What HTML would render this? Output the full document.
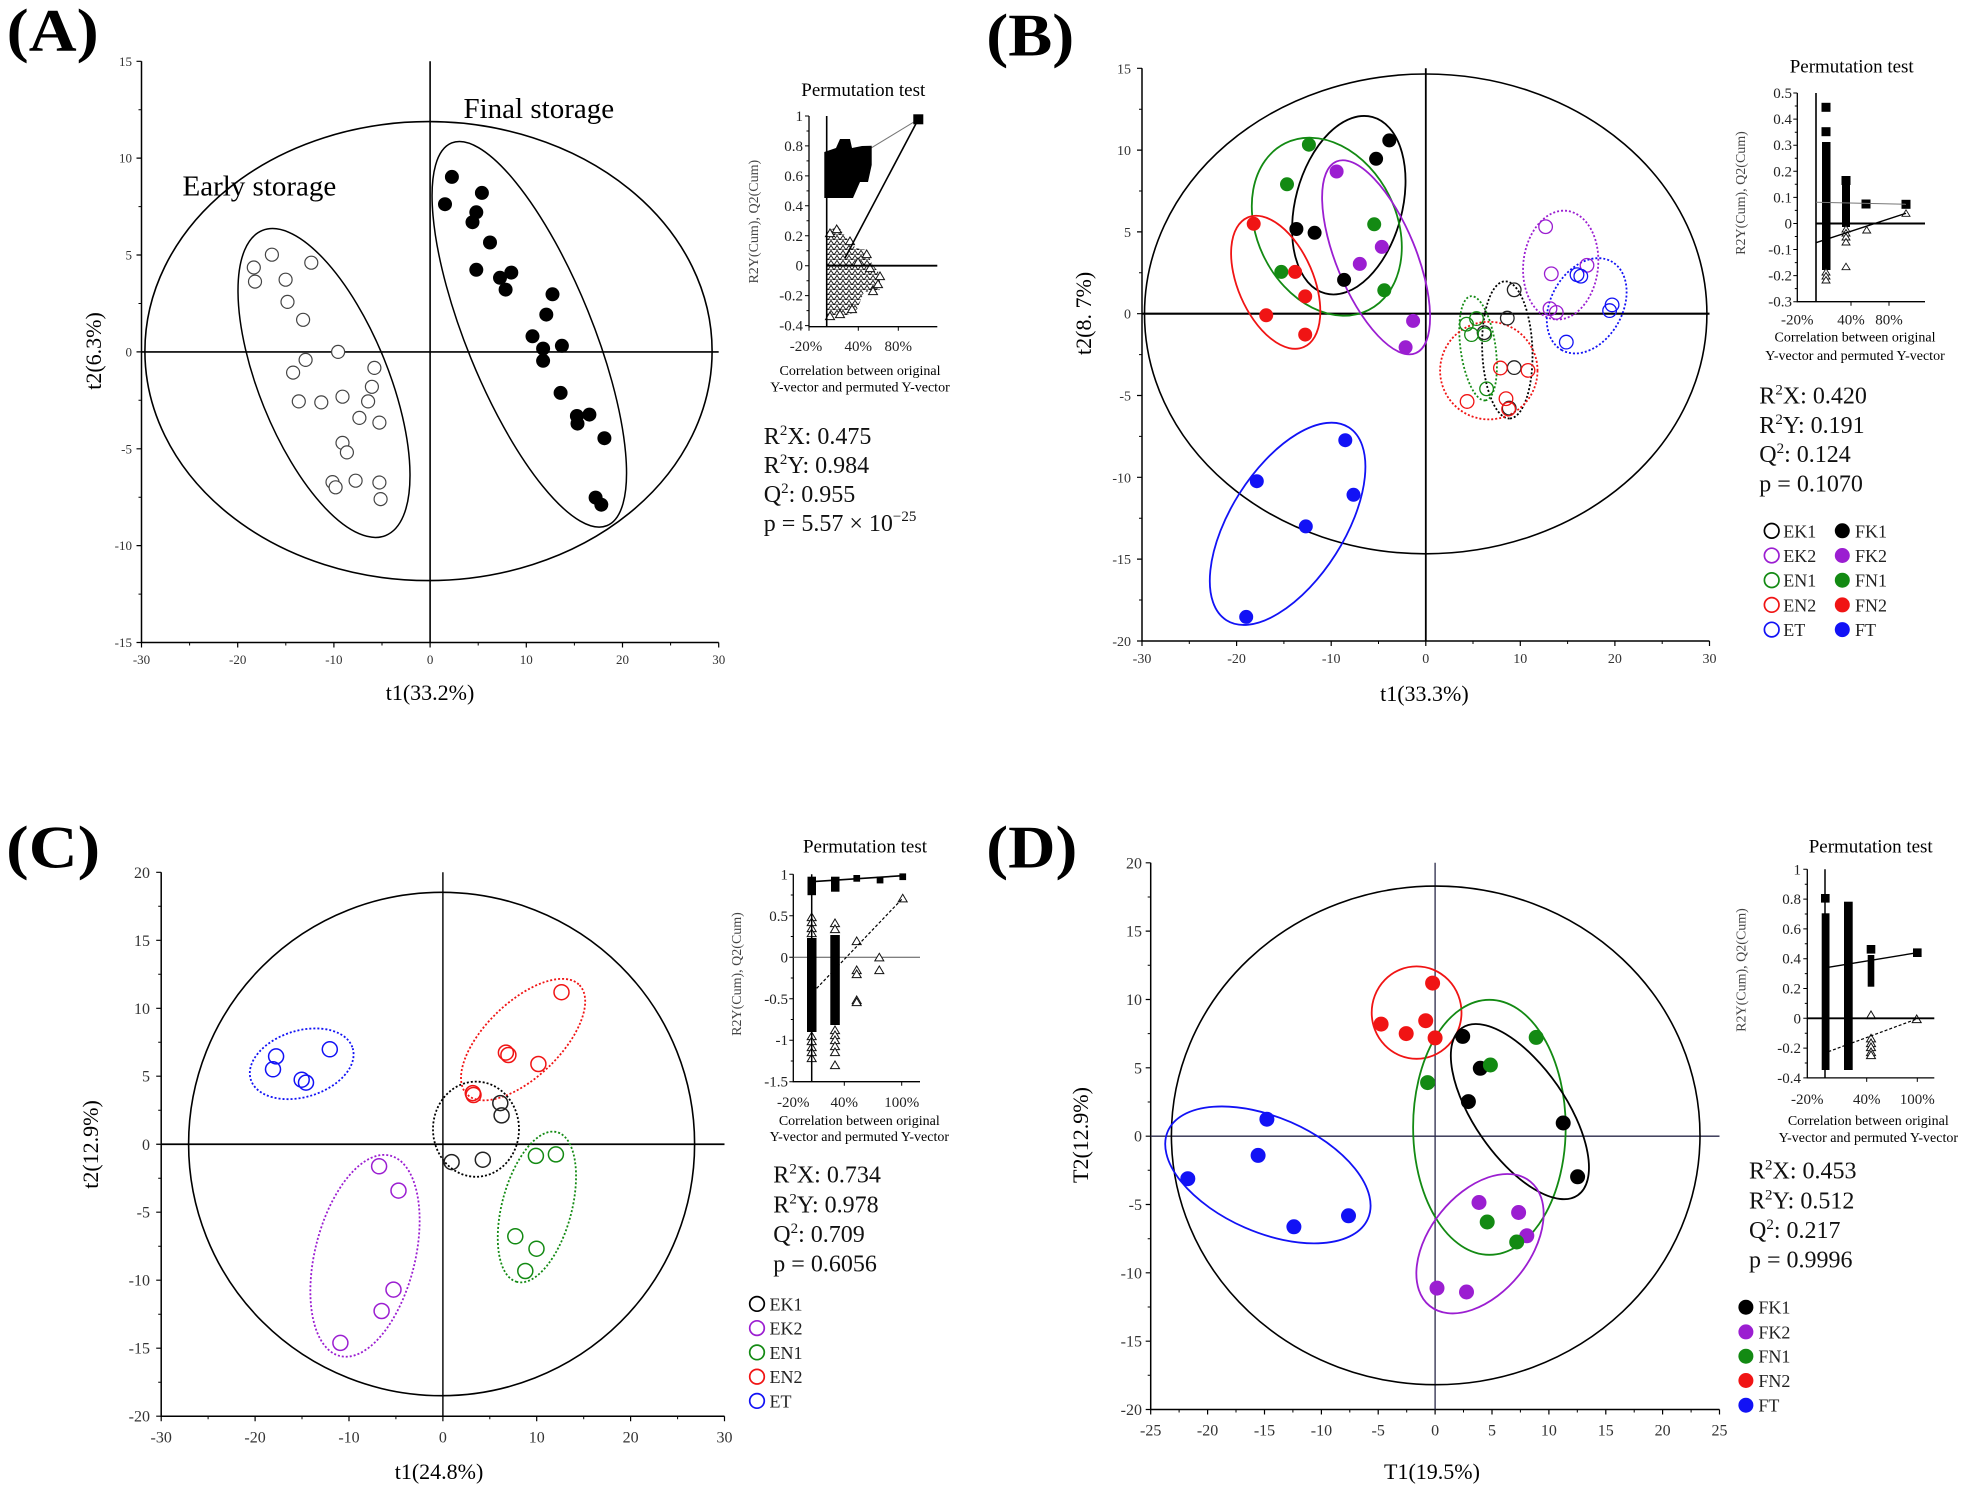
<!DOCTYPE html>
<html><head><meta charset="utf-8"><style>
html,body{margin:0;padding:0;background:#fff;}
svg{display:block;font-family:"Liberation Serif",serif;}
svg text{font-family:"Liberation Serif",serif;}
</style></head><body>
<svg width="1965" height="1488" viewBox="0 0 1965 1488" xmlns="http://www.w3.org/2000/svg" font-family="'Liberation Serif', serif">
<defs>
<path id="tr" d="M0,-4 L4.5,3.6 L-4.5,3.6 Z" fill="#fff" stroke="#111" stroke-width="1"/>
<path id="trs" d="M0,-3.5 L4,3 L-4,3 Z" fill="#fff" stroke="#111" stroke-width="0.9"/>
<pattern id="tp" width="6" height="5" patternUnits="userSpaceOnUse"><rect width="6" height="5" fill="#fff"/><path d="M3,0.4 L6,5 L0,5 Z" fill="none" stroke="#111" stroke-width="0.9"/></pattern>
</defs>
<rect width="1965" height="1488" fill="#fff"/>

<!-- ================= PANEL A ================= -->
<text x="6.7" y="50.5" font-size="60" font-weight="bold" textLength="92" lengthAdjust="spacingAndGlyphs">(A)</text>
<g stroke="#000" fill="none">
<path d="M141.5,61.3 V642.5 H718.7" stroke-width="1.5"/>
<path d="M141.5,642.5v5M237.7,642.5v5M333.9,642.5v5M430.1,642.5v5M526.3,642.5v5M622.5,642.5v5M718.7,642.5v5M141.5,61.3h-5M141.5,158.1h-5M141.5,255h-5M141.5,351.9h-5M141.5,448.8h-5M141.5,545.6h-5M141.5,642.5h-5" stroke-width="1.2"/>
<path d="M189.6,642.5v3M285.8,642.5v3M382,642.5v3M478.2,642.5v3M574.4,642.5v3M670.6,642.5v3M141.5,109.7h-3M141.5,206.6h-3M141.5,303.5h-3M141.5,400.3h-3M141.5,497.2h-3M141.5,594.1h-3" stroke-width="1"/>
<path d="M141.5,351.9 H718.7 M430.1,61.3 V642.5" stroke-width="1.6"/>
<ellipse cx="428.5" cy="351.1" rx="283.6" ry="229.5" stroke-width="1.6"/>
<ellipse cx="324" cy="383" rx="164.5" ry="64.7" transform="rotate(68 324 383)" stroke-width="1.5"/>
<ellipse cx="529.3" cy="334.3" rx="206.5" ry="63.1" transform="rotate(67.9 529.3 334.3)" stroke-width="1.5"/>
</g>
<g font-size="13" fill="#333" text-anchor="end">
<text x="132" y="65.8">15</text><text x="132" y="162.6">10</text><text x="132" y="259.5">5</text><text x="132" y="356.4">0</text><text x="132" y="453.3">-5</text><text x="132" y="550.1">-10</text><text x="132" y="647">-15</text>
</g>
<g font-size="13" fill="#333" text-anchor="middle">
<text x="141.5" y="664">-30</text><text x="237.7" y="664">-20</text><text x="333.9" y="664">-10</text><text x="430.1" y="664">0</text><text x="526.3" y="664">10</text><text x="622.5" y="664">20</text><text x="718.7" y="664">30</text>
</g>
<text x="430" y="700" font-size="22" text-anchor="middle">t1(33.2%)</text>
<text transform="translate(101,351) rotate(-90)" font-size="22" text-anchor="middle">t2(6.3%)</text>
<text x="182.5" y="195.6" font-size="29">Early storage</text>
<text x="463.5" y="117.8" font-size="29">Final storage</text>
<g fill="#fff" stroke="#444" stroke-width="1.2">
<circle cx="271.9" cy="254.7" r="6.5"/><circle cx="253.8" cy="267.5" r="6.5"/><circle cx="255" cy="281.6" r="6.5"/><circle cx="311.3" cy="262.7" r="6.5"/><circle cx="285.6" cy="279.7" r="6.5"/><circle cx="287.5" cy="301.9" r="6.5"/><circle cx="303.1" cy="319.8" r="6.5"/><circle cx="338.1" cy="351.9" r="6.5"/><circle cx="305.6" cy="359.9" r="6.5"/><circle cx="293.1" cy="372.6" r="6.5"/><circle cx="374.4" cy="367.9" r="6.5"/><circle cx="371.9" cy="386.8" r="6.5"/><circle cx="298.8" cy="401.4" r="6.5"/><circle cx="321.3" cy="402.4" r="6.5"/><circle cx="342.5" cy="396.7" r="6.5"/><circle cx="368.1" cy="401.4" r="6.5"/><circle cx="359.4" cy="417.9" r="6.5"/><circle cx="379.4" cy="422.6" r="6.5"/><circle cx="342.5" cy="442.9" r="6.5"/><circle cx="346.9" cy="452.4" r="6.5"/><circle cx="355.6" cy="480.7" r="6.5"/><circle cx="332.5" cy="482.1" r="6.5"/><circle cx="335.6" cy="487.3" r="6.5"/><circle cx="379.4" cy="482.5" r="6.5"/><circle cx="380.6" cy="499.1" r="6.5"/>
</g>
<g fill="#000">
<circle cx="451.9" cy="176.9" r="7"/><circle cx="445" cy="204.2" r="7"/><circle cx="481.9" cy="192.9" r="7"/><circle cx="476.3" cy="212.3" r="7"/><circle cx="472.5" cy="222.2" r="7"/><circle cx="490" cy="242.5" r="7"/><circle cx="476.3" cy="269.8" r="7"/><circle cx="500" cy="277.8" r="7"/><circle cx="511.3" cy="272.6" r="7"/><circle cx="505.6" cy="289.6" r="7"/><circle cx="552.5" cy="294.3" r="7"/><circle cx="546.3" cy="314.6" r="7"/><circle cx="532.5" cy="336.3" r="7"/><circle cx="543.1" cy="348.6" r="7"/><circle cx="561.9" cy="345.8" r="7"/><circle cx="543.1" cy="360.8" r="7"/><circle cx="560.6" cy="392.9" r="7"/><circle cx="589.4" cy="414.6" r="7"/><circle cx="576.9" cy="416" r="7"/><circle cx="577.5" cy="423.6" r="7"/><circle cx="604.4" cy="438.2" r="7"/><circle cx="595.6" cy="497.6" r="7"/><circle cx="601.3" cy="504.7" r="7"/>
</g>

<!-- Inset A -->
<text x="863.3" y="96" font-size="19" text-anchor="middle">Permutation test</text>
<g stroke="#000" fill="none">
<path d="M809,116 V326.7 H937.3" stroke-width="1.3"/>
<path d="M809,116h-4M809,145.9h-4M809,175.9h-4M809,205.8h-4M809,235.8h-4M809,265.7h-4M809,295.6h-4M809,325.6h-4M809,131h-2.5M809,160.9h-2.5M809,190.9h-2.5M809,220.8h-2.5M809,250.8h-2.5M809,280.7h-2.5M809,310.6h-2.5M809,326.7v4M858.3,326.7v4M898.3,326.7v4" stroke-width="1"/>
</g>
<polygon points="826,232 838,226 848,240 856,248 866,250 872,264 880,274 880,290 864,292 856,312 845,316 826,319" fill="url(#tp)"/>
<use href="#tr" x="866.7" y="254"/><use href="#tr" x="880" y="276"/><use href="#tr" x="878" y="284"/><use href="#tr" x="873" y="291"/><use href="#tr" x="836.7" y="229"/><use href="#tr" x="830" y="233"/><use href="#tr" x="850" y="241"/><use href="#tr" x="830" y="316"/><use href="#tr" x="840" y="314"/><use href="#tr" x="852" y="309"/><use href="#tr" x="858" y="262"/><use href="#tr" x="870" y="268"/>
<g stroke="#000" fill="none">
<path d="M826.7,116 V326.7" stroke-width="1.6"/>
<path d="M826.7,265.7 H937.3" stroke-width="1.8"/>
<path d="M866.7,150.7 L918.3,119.3" stroke="#777" stroke-width="1"/>
<path d="M918.3,119.3 L845,258" stroke-width="1.6"/>
</g>
<g fill="#000">
<polygon points="824.3,152 836,148 840,139 850,139 852,148 862,146 871.7,145.7 871.7,165 868,182 860,182 853,198 838,198 824.3,198"/>
<rect x="913.3" y="114.3" width="10" height="10"/>
</g>
<g font-size="15" fill="#222" text-anchor="end">
<text x="803" y="121">1</text><text x="803" y="150.9">0.8</text><text x="803" y="180.9">0.6</text><text x="803" y="210.8">0.4</text><text x="803" y="240.8">0.2</text><text x="803" y="270.7">0</text><text x="803" y="300.6">-0.2</text><text x="803" y="330.6">-0.4</text>
</g>
<g font-size="15" fill="#222" text-anchor="middle">
<text x="806" y="351">-20%</text><text x="858.3" y="351">40%</text><text x="898.3" y="351">80%</text>
</g>
<text transform="translate(758,221.7) rotate(-90)" font-size="14" fill="#444" text-anchor="middle">R2Y(Cum), Q2(Cum)</text>
<text x="860" y="375" font-size="14" text-anchor="middle">Correlation between original</text>
<text x="860" y="391.7" font-size="14" text-anchor="middle">Y-vector and permuted Y-vector</text>
<g font-size="24" fill="#111">
<text x="763.8" y="444">R<tspan font-size="15" dy="-9">2</tspan><tspan dy="9">X: 0.475</tspan></text>
<text x="763.8" y="473">R<tspan font-size="15" dy="-9">2</tspan><tspan dy="9">Y: 0.984</tspan></text>
<text x="763.8" y="502">Q<tspan font-size="15" dy="-9">2</tspan><tspan dy="9">: 0.955</tspan></text>
<text x="763.8" y="531">p = 5.57 × 10<tspan font-size="15" dy="-10">−25</tspan></text>
</g>

<!-- ================= PANEL B ================= -->
<text x="986.3" y="55.6" font-size="60" font-weight="bold" textLength="88" lengthAdjust="spacingAndGlyphs">(B)</text>
<g stroke="#000" fill="none">
<path d="M1142,68.3 V641 H1709.5" stroke-width="1.5"/>
<path d="M1142,641v5M1236.6,641v5M1331.2,641v5M1425.8,641v5M1520.3,641v5M1614.9,641v5M1709.5,641v5M1142,68.3h-5M1142,150.1h-5M1142,231.9h-5M1142,313.7h-5M1142,395.5h-5M1142,477.3h-5M1142,559.1h-5M1142,641h-5" stroke-width="1.2"/>
<path d="M1189.3,641v3M1283.9,641v3M1378.5,641v3M1473,641v3M1567.6,641v3M1662.2,641v3M1142,109.2h-3M1142,191h-3M1142,272.8h-3M1142,354.6h-3M1142,436.4h-3M1142,518.2h-3M1142,600h-3" stroke-width="1"/>
<path d="M1142,313.7 H1709.5" stroke-width="2.2"/>
<path d="M1425.8,68.3 V641" stroke-width="1.8"/>
<ellipse cx="1425.7" cy="313.9" rx="281.2" ry="239.9" stroke-width="1.6"/>
</g>
<g fill="none" stroke-width="1.8">
<ellipse cx="1348.8" cy="205.2" rx="91.3" ry="53.4" transform="rotate(105 1348.8 205.2)" stroke="#000"/>
<ellipse cx="1326.8" cy="226.7" rx="93.2" ry="69.7" transform="rotate(63.4 1326.8 226.7)" stroke="#138a13"/>
<ellipse cx="1376.1" cy="257.3" rx="103.7" ry="39.8" transform="rotate(67.6 1376.1 257.3)" stroke="#9b1ed1"/>
<ellipse cx="1275.7" cy="282.3" rx="70.6" ry="37.8" transform="rotate(66.6 1275.7 282.3)" stroke="#f01414"/>
<ellipse cx="1287.6" cy="523.8" rx="114.2" ry="56.9" transform="rotate(122.4 1287.6 523.8)" stroke="#1212f5"/>
</g>
<g fill="none" stroke-width="1.8" stroke-dasharray="2 2">
<ellipse cx="1560.7" cy="265.1" rx="54.6" ry="37.4" transform="rotate(96.2 1560.7 265.1)" stroke="#9b1ed1"/>
<ellipse cx="1586.7" cy="305.8" rx="50.8" ry="35.8" transform="rotate(119.3 1586.7 305.8)" stroke="#1212f5"/>
<ellipse cx="1507.3" cy="349.9" rx="68.6" ry="25.1" transform="rotate(88 1507.3 349.9)" stroke="#000"/>
<ellipse cx="1478.1" cy="348.3" rx="52.6" ry="17.5" transform="rotate(82 1478.1 348.3)" stroke="#138a13"/>
<ellipse cx="1488.8" cy="370.6" rx="48.7" ry="48.8" stroke="#f01414"/>
</g>
<g font-size="14" fill="#333" text-anchor="end">
<text x="1131" y="73.3">15</text><text x="1131" y="155.1">10</text><text x="1131" y="236.9">5</text><text x="1131" y="318.7">0</text><text x="1131" y="400.5">-5</text><text x="1131" y="482.3">-10</text><text x="1131" y="564.1">-15</text><text x="1131" y="646">-20</text>
</g>
<g font-size="14" fill="#333" text-anchor="middle">
<text x="1142" y="663">-30</text><text x="1236.6" y="663">-20</text><text x="1331.2" y="663">-10</text><text x="1425.8" y="663">0</text><text x="1520.3" y="663">10</text><text x="1614.9" y="663">20</text><text x="1709.5" y="663">30</text>
</g>
<text x="1424.4" y="701" font-size="22" text-anchor="middle">t1(33.3%)</text>
<text transform="translate(1091,313.4) rotate(-90)" font-size="22" text-anchor="middle">t2(8. 7%)</text>
<g fill="#000"><circle cx="1389.3" cy="140.4" r="7"/><circle cx="1376.1" cy="158.8" r="7"/><circle cx="1296.4" cy="229" r="7"/><circle cx="1314.6" cy="232.8" r="7"/><circle cx="1344.1" cy="279.9" r="7"/></g>
<g fill="#138a13"><circle cx="1308.9" cy="144.7" r="7"/><circle cx="1287" cy="184.3" r="7"/><circle cx="1374.2" cy="224.3" r="7"/><circle cx="1281.3" cy="271.9" r="7"/><circle cx="1384.3" cy="290.3" r="7"/></g>
<g fill="#9b1ed1"><circle cx="1336.6" cy="171.5" r="7"/><circle cx="1381.8" cy="246.9" r="7"/><circle cx="1359.8" cy="263.9" r="7"/><circle cx="1413.1" cy="320.9" r="7"/><circle cx="1405.6" cy="347.3" r="7"/></g>
<g fill="#f01414"><circle cx="1253.7" cy="223.8" r="7"/><circle cx="1295.1" cy="271.9" r="7"/><circle cx="1305.2" cy="296.4" r="7"/><circle cx="1266.2" cy="315.3" r="7"/><circle cx="1305.2" cy="334.6" r="7"/></g>
<g fill="#1212f5"><circle cx="1345.3" cy="440.2" r="7"/><circle cx="1256.8" cy="481.2" r="7"/><circle cx="1353.5" cy="494.8" r="7"/><circle cx="1305.8" cy="526.4" r="7"/><circle cx="1246.2" cy="616.9" r="7"/></g>
<g fill="none" stroke-width="1.3">
<g stroke="#9b1ed1"><circle cx="1545.6" cy="226.7" r="6.8"/><circle cx="1551.3" cy="273.8" r="6.8"/><circle cx="1550" cy="308.7" r="6.8"/><circle cx="1556.3" cy="312.4" r="6.8"/><circle cx="1587" cy="265.3" r="6.8"/></g>
<g stroke="#1212f5"><circle cx="1577" cy="274.7" r="6.8"/><circle cx="1580.8" cy="276.2" r="6.8"/><circle cx="1612.1" cy="304.9" r="6.8"/><circle cx="1609.6" cy="310.6" r="6.8"/><circle cx="1566.3" cy="342.1" r="6.8"/></g>
<g stroke="#222"><circle cx="1514.2" cy="289.8" r="6.8"/><circle cx="1507.3" cy="318.1" r="6.8"/><circle cx="1484.1" cy="332.7" r="6.8"/><circle cx="1514.2" cy="367.6" r="6.8"/><circle cx="1509.2" cy="408.1" r="6.8"/></g>
<g stroke="#138a13"><circle cx="1476.5" cy="318.6" r="6.8"/><circle cx="1466.5" cy="324.2" r="6.8"/><circle cx="1471.5" cy="334.6" r="6.8"/><circle cx="1484.7" cy="334.6" r="6.8"/><circle cx="1486.6" cy="388.8" r="6.8"/></g>
<g stroke="#f01414"><circle cx="1500.4" cy="368" r="6.8"/><circle cx="1528" cy="370.4" r="6.8"/><circle cx="1467.1" cy="401.5" r="6.8"/><circle cx="1506" cy="398.7" r="6.8"/><circle cx="1508.6" cy="409" r="6.8"/></g>
</g>

<!-- Inset B -->
<text x="1851.7" y="72.5" font-size="19" text-anchor="middle">Permutation test</text>
<g stroke="#000" fill="none">
<path d="M1797.3,93 V301.7 H1925" stroke-width="1.3"/>
<path d="M1797.3,93h-4M1797.3,119.1h-4M1797.3,145.2h-4M1797.3,171.3h-4M1797.3,197.4h-4M1797.3,223.5h-4M1797.3,249.5h-4M1797.3,275.6h-4M1797.3,301.7h-4M1797.3,106h-2.5M1797.3,132.2h-2.5M1797.3,158.2h-2.5M1797.3,184.3h-2.5M1797.3,210.4h-2.5M1797.3,236.5h-2.5M1797.3,262.6h-2.5M1797.3,288.6h-2.5M1851,301.7v4M1889,301.7v4" stroke-width="1"/>
</g>
<g fill="#000">
<rect x="1821.5" y="102.8" width="9" height="9"/><rect x="1821.5" y="127.2" width="9" height="9"/><rect x="1822" y="142" width="8.5" height="128"/>
<rect x="1841.5" y="176" width="9" height="9"/><rect x="1842" y="185" width="8" height="42"/>
<rect x="1861.5" y="199.5" width="9" height="9"/><rect x="1901.5" y="199.8" width="9" height="9"/>
</g>
<use href="#trs" x="1826" y="272"/><use href="#trs" x="1826" y="276"/><use href="#trs" x="1826" y="280"/>
<use href="#trs" x="1846" y="229"/><use href="#trs" x="1846" y="233"/><use href="#trs" x="1846" y="237"/><use href="#trs" x="1846" y="242"/>
<use href="#trs" x="1866.7" y="230"/><use href="#trs" x="1846" y="266.7"/><use href="#trs" x="1906" y="213.3"/>
<g stroke="#000" fill="none">
<path d="M1816,93 V301.7" stroke-width="1.6"/>
<path d="M1816,223.5 H1925" stroke-width="2"/>
<path d="M1816,202.3 L1906,204.3" stroke="#777" stroke-width="1"/>
<path d="M1816,242.7 L1906,213.3" stroke-width="1.4"/>
</g>
<g font-size="15" fill="#222" text-anchor="end">
<text x="1792" y="98">0.5</text><text x="1792" y="124.1">0.4</text><text x="1792" y="150.2">0.3</text><text x="1792" y="176.3">0.2</text><text x="1792" y="202.4">0.1</text><text x="1792" y="228.5">0</text><text x="1792" y="254.5">-0.1</text><text x="1792" y="280.6">-0.2</text><text x="1792" y="306.7">-0.3</text>
</g>
<g font-size="15" fill="#222" text-anchor="middle">
<text x="1797.3" y="324.5">-20%</text><text x="1851" y="324.5">40%</text><text x="1889" y="324.5">80%</text>
</g>
<text transform="translate(1745,193) rotate(-90)" font-size="14" fill="#444" text-anchor="middle">R2Y(Cum), Q2(Cum)</text>
<text x="1855" y="341.5" font-size="14" text-anchor="middle">Correlation between original</text>
<text x="1855" y="360" font-size="14" text-anchor="middle">Y-vector and permuted Y-vector</text>
<g font-size="24" fill="#111">
<text x="1759.3" y="403.3">R<tspan font-size="15" dy="-9">2</tspan><tspan dy="9">X: 0.420</tspan></text>
<text x="1759.3" y="433">R<tspan font-size="15" dy="-9">2</tspan><tspan dy="9">Y: 0.191</tspan></text>
<text x="1759.3" y="462">Q<tspan font-size="15" dy="-9">2</tspan><tspan dy="9">: 0.124</tspan></text>
<text x="1759.3" y="491.7">p = 0.1070</text>
</g>
<g stroke-width="1.7" fill="none">
<circle cx="1771.7" cy="530.8" r="7.3" stroke="#000"/><circle cx="1771.7" cy="555.5" r="7.3" stroke="#9b1ed1"/><circle cx="1771.7" cy="580.2" r="7.3" stroke="#138a13"/><circle cx="1771.7" cy="604.9" r="7.3" stroke="#f01414"/><circle cx="1771.7" cy="629.6" r="7.3" stroke="#1212f5"/>
</g>
<circle cx="1842.3" cy="530.8" r="7.5" fill="#000"/><circle cx="1842.3" cy="555.5" r="7.5" fill="#9b1ed1"/><circle cx="1842.3" cy="580.2" r="7.5" fill="#138a13"/><circle cx="1842.3" cy="604.9" r="7.5" fill="#f01414"/><circle cx="1842.3" cy="629.6" r="7.5" fill="#1212f5"/>
<g font-size="18" fill="#222">
<text x="1783.3" y="537.3">EK1</text><text x="1783.3" y="562">EK2</text><text x="1783.3" y="586.7">EN1</text><text x="1783.3" y="611.4">EN2</text><text x="1783.3" y="636.1">ET</text>
<text x="1855" y="537.3">FK1</text><text x="1855" y="562">FK2</text><text x="1855" y="586.7">FN1</text><text x="1855" y="611.4">FN2</text><text x="1855" y="636.1">FT</text>
</g>

<!-- ================= PANEL C ================= -->
<text x="6.2" y="867.5" font-size="60" font-weight="bold" textLength="94" lengthAdjust="spacingAndGlyphs">(C)</text>
<g stroke="#000" fill="none">
<path d="M161.2,872.3 V1416.2 H724.5" stroke-width="1.5"/>
<path d="M161.2,1416.2v5M255.1,1416.2v5M349,1416.2v5M442.9,1416.2v5M536.7,1416.2v5M630.6,1416.2v5M724.5,1416.2v5M161.2,872.3h-5M161.2,940.3h-5M161.2,1008.3h-5M161.2,1076.2h-5M161.2,1144.25h-5M161.2,1212.2h-5M161.2,1280.2h-5M161.2,1348.2h-5M161.2,1416.2h-5" stroke-width="1.2"/>
<path d="M208.1,1416.2v3M302,1416.2v3M395.9,1416.2v3M489.8,1416.2v3M583.7,1416.2v3M677.6,1416.2v3M161.2,906.3h-3M161.2,974.3h-3M161.2,1042.2h-3M161.2,1110.2h-3M161.2,1178.2h-3M161.2,1246.2h-3M161.2,1314.2h-3M161.2,1382.2h-3" stroke-width="1"/>
<path d="M161.2,1144.25 H724.5" stroke-width="1.8"/>
<path d="M442.9,872.3 V1416.2" stroke-width="1.4"/>
<ellipse cx="441.6" cy="1144" rx="253" ry="251.7" stroke-width="1.6"/>
</g>
<g fill="none" stroke-width="1.8" stroke-dasharray="2 2">
<ellipse cx="301.7" cy="1063.8" rx="53.3" ry="33.2" transform="rotate(-17 301.7 1063.8)" stroke="#1212f5"/>
<ellipse cx="523.1" cy="1039.6" rx="78.4" ry="37.4" transform="rotate(-44 523.1 1039.6)" stroke="#f01414"/>
<ellipse cx="476" cy="1129.2" rx="43" ry="47.6" stroke="#000"/>
<ellipse cx="536.9" cy="1207" rx="77.5" ry="34.8" transform="rotate(105 536.9 1207)" stroke="#138a13"/>
<ellipse cx="365" cy="1255.8" rx="103.3" ry="50" transform="rotate(104.1 365 1255.8)" stroke="#9b1ed1"/>
</g>
<g font-size="16" fill="#333" text-anchor="end">
<text x="150" y="877.8">20</text><text x="150" y="945.8">15</text><text x="150" y="1013.8">10</text><text x="150" y="1081.7">5</text><text x="150" y="1149.75">0</text><text x="150" y="1217.7">-5</text><text x="150" y="1285.7">-10</text><text x="150" y="1353.7">-15</text><text x="150" y="1421.7">-20</text>
</g>
<g font-size="16" fill="#333" text-anchor="middle">
<text x="161.2" y="1442.5">-30</text><text x="255.1" y="1442.5">-20</text><text x="349" y="1442.5">-10</text><text x="442.9" y="1442.5">0</text><text x="536.7" y="1442.5">10</text><text x="630.6" y="1442.5">20</text><text x="724.5" y="1442.5">30</text>
</g>
<text x="439" y="1479" font-size="22" text-anchor="middle">t1(24.8%)</text>
<text transform="translate(98,1144.5) rotate(-90)" font-size="22" text-anchor="middle">t2(12.9%)</text>
<g fill="none" stroke-width="1.5">
<g stroke="#1212f5"><circle cx="276.1" cy="1056.4" r="7.5"/><circle cx="273" cy="1069.3" r="7.5"/><circle cx="301.7" cy="1079.7" r="7.5"/><circle cx="306" cy="1082.6" r="7.5"/><circle cx="329.8" cy="1049.3" r="7.5"/></g>
<g stroke="#f01414"><circle cx="561.5" cy="992.2" r="7.5"/><circle cx="505.9" cy="1052.6" r="7.5"/><circle cx="508.4" cy="1055" r="7.5"/><circle cx="538.4" cy="1064" r="7.5"/><circle cx="472.8" cy="1093.1" r="7.5"/><circle cx="473.5" cy="1095" r="7.5"/></g>
<g stroke="#222"><circle cx="500.3" cy="1103.1" r="7.5"/><circle cx="501.6" cy="1115.4" r="7.5"/><circle cx="451.6" cy="1162.1" r="7.5"/><circle cx="482.8" cy="1159.7" r="7.5"/></g>
<g stroke="#138a13"><circle cx="535.9" cy="1155.9" r="7.5"/><circle cx="555.9" cy="1154.4" r="7.5"/><circle cx="515.3" cy="1236.3" r="7.5"/><circle cx="536.5" cy="1248.7" r="7.5"/><circle cx="525.3" cy="1271" r="7.5"/></g>
<g stroke="#9b1ed1"><circle cx="379.1" cy="1166.3" r="7.5"/><circle cx="398.5" cy="1190.6" r="7.5"/><circle cx="393.5" cy="1289.6" r="7.5"/><circle cx="381.6" cy="1311" r="7.5"/><circle cx="340.4" cy="1342.9" r="7.5"/></g>
</g>

<!-- Inset C -->
<text x="865" y="852.7" font-size="19" text-anchor="middle">Permutation test</text>
<g stroke="#000" fill="none">
<path d="M793.3,874.3 V1081.7 H920" stroke-width="1.3"/>
<path d="M793.3,874.3h-4M793.3,915.8h-4M793.3,957.3h-4M793.3,998.8h-4M793.3,1040.2h-4M793.3,1081.7h-4M793.3,895h-2.5M793.3,936.5h-2.5M793.3,978h-2.5M793.3,1019.5h-2.5M793.3,1061h-2.5M844.3,1081.7v4M901.7,1081.7v4" stroke-width="1"/>
<path d="M793.3,957.3 H920" stroke="#555" stroke-width="1"/>
</g>
<g fill="#000">
<rect x="807.5" y="876.7" width="8.5" height="18.5"/><rect x="831" y="876.7" width="8.5" height="15"/>
<rect x="853.4" y="875" width="6.7" height="6.7"/><rect x="876.7" y="876.7" width="6.7" height="6.7"/><rect x="899.4" y="873.4" width="6.7" height="6.7"/>
<rect x="807" y="938" width="9.5" height="94"/><rect x="830.3" y="935" width="9.5" height="90"/>
</g>
<use href="#tr" x="811.7" y="917"/><use href="#tr" x="811.7" y="922"/><use href="#tr" x="811.7" y="928"/><use href="#tr" x="811.7" y="933"/><use href="#tr" x="811.7" y="1036"/><use href="#tr" x="811.7" y="1041"/><use href="#tr" x="811.7" y="1047"/><use href="#tr" x="811.7" y="1052"/><use href="#tr" x="811.7" y="1058"/>
<use href="#tr" x="835" y="923"/><use href="#tr" x="835" y="929"/><use href="#tr" x="835" y="1030"/><use href="#tr" x="835" y="1035"/><use href="#tr" x="835" y="1040"/><use href="#tr" x="835" y="1046"/><use href="#tr" x="835" y="1052"/><use href="#tr" x="835" y="1065"/>
<use href="#tr" x="856.7" y="941"/><use href="#tr" x="856.7" y="970"/><use href="#tr" x="856.7" y="974"/><use href="#tr" x="856.7" y="1000"/><use href="#tr" x="856.7" y="1002"/><use href="#tr" x="879.3" y="957.3"/><use href="#tr" x="879.3" y="970"/><use href="#tr" x="902.7" y="898.3"/>
<g stroke="#000" fill="none">
<path d="M811.7,874.3 V1081.7" stroke-width="1.5"/>
<path d="M811.7,881.7 L902.7,875.7" stroke-width="1.6"/>
<path d="M816.7,988.3 L902.7,898.3" stroke-width="1.2" stroke-dasharray="3 2"/>
</g>
<g font-size="15" fill="#222" text-anchor="end">
<text x="788" y="879.3">1</text><text x="788" y="920.8">0.5</text><text x="788" y="962.3">0</text><text x="788" y="1003.8">-0.5</text><text x="788" y="1045.2">-1</text><text x="788" y="1086.7">-1.5</text>
</g>
<g font-size="15" fill="#222" text-anchor="middle">
<text x="793.3" y="1107">-20%</text><text x="844.3" y="1107">40%</text><text x="901.7" y="1107">100%</text>
</g>
<text transform="translate(741,974) rotate(-90)" font-size="14" fill="#444" text-anchor="middle">R2Y(Cum), Q2(Cum)</text>
<text x="859.3" y="1125" font-size="14" text-anchor="middle">Correlation between original</text>
<text x="859.3" y="1141" font-size="14" text-anchor="middle">Y-vector and permuted Y-vector</text>
<g font-size="24" fill="#111">
<text x="773.3" y="1182.5">R<tspan font-size="15" dy="-9">2</tspan><tspan dy="9">X: 0.734</tspan></text>
<text x="773.3" y="1212.5">R<tspan font-size="15" dy="-9">2</tspan><tspan dy="9">Y: 0.978</tspan></text>
<text x="773.3" y="1242">Q<tspan font-size="15" dy="-9">2</tspan><tspan dy="9">: 0.709</tspan></text>
<text x="773.3" y="1271.5">p = 0.6056</text>
</g>
<g stroke-width="1.7" fill="none">
<circle cx="757" cy="1303.9" r="7.3" stroke="#000"/><circle cx="757" cy="1328.1" r="7.3" stroke="#9b1ed1"/><circle cx="757" cy="1352.4" r="7.3" stroke="#138a13"/><circle cx="757" cy="1376.7" r="7.3" stroke="#f01414"/><circle cx="757" cy="1400.9" r="7.3" stroke="#1212f5"/>
</g>
<g font-size="18" fill="#222">
<text x="769.5" y="1310.4">EK1</text><text x="769.5" y="1334.6">EK2</text><text x="769.5" y="1358.9">EN1</text><text x="769.5" y="1383.2">EN2</text><text x="769.5" y="1407.4">ET</text>
</g>

<!-- ================= PANEL D ================= -->
<text x="986.3" y="867.5" font-size="60" font-weight="bold" textLength="91" lengthAdjust="spacingAndGlyphs">(D)</text>
<g stroke="#000" fill="none">
<path d="M1150.7,862.8 V1409.5 H1719.5" stroke-width="1.5"/>
<path d="M1150.7,1409.5v5M1207.6,1409.5v5M1264.5,1409.5v5M1321.4,1409.5v5M1378.2,1409.5v5M1435.1,1409.5v5M1492,1409.5v5M1548.9,1409.5v5M1605.8,1409.5v5M1662.6,1409.5v5M1719.5,1409.5v5M1150.7,862.8h-5M1150.7,931.1h-5M1150.7,999.5h-5M1150.7,1067.8h-5M1150.7,1136.2h-5M1150.7,1204.5h-5M1150.7,1272.8h-5M1150.7,1341.2h-5M1150.7,1409.5h-5" stroke-width="1.2"/>
<path d="M1179.1,1409.5v3M1236,1409.5v3M1292.9,1409.5v3M1349.8,1409.5v3M1406.7,1409.5v3M1463.5,1409.5v3M1520.4,1409.5v3M1577.3,1409.5v3M1634.2,1409.5v3M1691.1,1409.5v3M1150.7,897h-3M1150.7,965.3h-3M1150.7,1033.6h-3M1150.7,1102h-3M1150.7,1170.3h-3M1150.7,1238.7h-3M1150.7,1307h-3M1150.7,1375.3h-3" stroke-width="1"/>
<path d="M1150.7,1136.2 H1719.5 M1435.1,862.8 V1409.5" stroke="#2a2a4a" stroke-width="1.3"/>
<ellipse cx="1435.7" cy="1135.4" rx="264.3" ry="249.3" stroke-width="1.6"/>
</g>
<g fill="none" stroke-width="1.8">
<ellipse cx="1416.6" cy="1012.6" rx="44.9" ry="46.2" stroke="#f01414"/>
<ellipse cx="1489.4" cy="1127.3" rx="76.3" ry="127.5" stroke="#138a13"/>
<ellipse cx="1519.9" cy="1111.6" rx="101.7" ry="45.8" transform="rotate(55.3 1519.9 1111.6)" stroke="#000"/>
<ellipse cx="1480" cy="1243.7" rx="80" ry="50.1" transform="rotate(129 1480 1243.7)" stroke="#9b1ed1"/>
<ellipse cx="1267.9" cy="1174.9" rx="109.2" ry="57.5" transform="rotate(23.6 1267.9 1174.9)" stroke="#1212f5"/>
</g>
<g font-size="16" fill="#333" text-anchor="end">
<text x="1142" y="868.3">20</text><text x="1142" y="936.6">15</text><text x="1142" y="1005">10</text><text x="1142" y="1073.3">5</text><text x="1142" y="1141.7">0</text><text x="1142" y="1210">-5</text><text x="1142" y="1278.3">-10</text><text x="1142" y="1346.7">-15</text><text x="1142" y="1415">-20</text>
</g>
<g font-size="16" fill="#333" text-anchor="middle">
<text x="1150.7" y="1435.5">-25</text><text x="1207.6" y="1435.5">-20</text><text x="1264.5" y="1435.5">-15</text><text x="1321.4" y="1435.5">-10</text><text x="1378.2" y="1435.5">-5</text><text x="1435.1" y="1435.5">0</text><text x="1492" y="1435.5">5</text><text x="1548.9" y="1435.5">10</text><text x="1605.8" y="1435.5">15</text><text x="1662.6" y="1435.5">20</text><text x="1719.5" y="1435.5">25</text>
</g>
<text x="1432" y="1479" font-size="22" text-anchor="middle">T1(19.5%)</text>
<text transform="translate(1088,1135) rotate(-90)" font-size="22" text-anchor="middle">T2(12.9%)</text>
<g fill="#f01414"><circle cx="1432.6" cy="983.1" r="7.5"/><circle cx="1381.1" cy="1024.1" r="7.5"/><circle cx="1406.2" cy="1033.6" r="7.5"/><circle cx="1425.7" cy="1020.7" r="7.5"/><circle cx="1435.1" cy="1037.9" r="7.5"/></g>
<g fill="#000"><circle cx="1462.7" cy="1036.4" r="7.5"/><circle cx="1480.3" cy="1068.3" r="7.5"/><circle cx="1468.4" cy="1101.6" r="7.5"/><circle cx="1563.2" cy="1123" r="7.5"/><circle cx="1577.6" cy="1176.8" r="7.5"/></g>
<g fill="#138a13"><circle cx="1536.2" cy="1037.4" r="7.5"/><circle cx="1490.4" cy="1065" r="7.5"/><circle cx="1427.6" cy="1082.6" r="7.5"/><circle cx="1487.2" cy="1222" r="7.5"/></g>
<g fill="#9b1ed1"><circle cx="1479" cy="1202.5" r="7.5"/><circle cx="1518.6" cy="1212.5" r="7.5"/><circle cx="1526.8" cy="1235.8" r="7.5"/><circle cx="1437" cy="1288.1" r="7.5"/><circle cx="1466.5" cy="1292" r="7.5"/></g>
<circle cx="1516.7" cy="1242" r="7.5" fill="#138a13"/>
<g fill="#1212f5"><circle cx="1266.9" cy="1119.2" r="7.5"/><circle cx="1258.1" cy="1155.4" r="7.5"/><circle cx="1187.8" cy="1178.7" r="7.5"/><circle cx="1293.9" cy="1226.8" r="7.5"/><circle cx="1348.5" cy="1215.8" r="7.5"/></g>

<!-- Inset D -->
<text x="1870.7" y="852.7" font-size="19" text-anchor="middle">Permutation test</text>
<g stroke="#000" fill="none">
<path d="M1807.3,869.3 V1077.9 H1934.3" stroke-width="1.3"/>
<path d="M1807.3,869.3h-4M1807.3,899.1h-4M1807.3,928.9h-4M1807.3,958.7h-4M1807.3,988.5h-4M1807.3,1018.3h-4M1807.3,1048.1h-4M1807.3,1077.9h-4M1807.3,884.2h-2.5M1807.3,914h-2.5M1807.3,943.8h-2.5M1807.3,973.6h-2.5M1807.3,1003.4h-2.5M1807.3,1033.2h-2.5M1807.3,1063h-2.5M1866.7,1077.9v4M1917.3,1077.9v4" stroke-width="1"/>
</g>
<g fill="#000">
<rect x="1821.7" y="913.3" width="7.8" height="156.7"/><rect x="1821" y="894" width="8.6" height="8.6"/>
<rect x="1844" y="901.7" width="8.7" height="168.3"/>
<rect x="1866.7" y="945" width="8.6" height="8.6"/><rect x="1867.7" y="955" width="6.6" height="31.7"/>
<rect x="1913" y="948.4" width="8.6" height="8.6"/>
</g>
<use href="#tr" x="1871" y="1015"/><use href="#tr" x="1871" y="1038.3"/><use href="#tr" x="1871" y="1043"/><use href="#tr" x="1871" y="1047"/><use href="#tr" x="1871" y="1052"/><use href="#tr" x="1871" y="1055"/><use href="#tr" x="1916.7" y="1019"/>
<g stroke="#000" fill="none">
<path d="M1825,869.3 V1077.9" stroke-width="1.5"/>
<path d="M1807.3,1018.3 H1934.3" stroke-width="1.8"/>
<path d="M1828.3,967.3 L1917.3,952.7" stroke-width="1.4"/>
<path d="M1828.3,1051.7 L1916.7,1019" stroke-width="1.2" stroke-dasharray="3 2"/>
</g>
<g font-size="15" fill="#222" text-anchor="end">
<text x="1801" y="874.3">1</text><text x="1801" y="904.1">0.8</text><text x="1801" y="933.9">0.6</text><text x="1801" y="963.7">0.4</text><text x="1801" y="993.5">0.2</text><text x="1801" y="1023.3">0</text><text x="1801" y="1053.1">-0.2</text><text x="1801" y="1082.9">-0.4</text>
</g>
<g font-size="15" fill="#222" text-anchor="middle">
<text x="1807.3" y="1104">-20%</text><text x="1866.7" y="1104">40%</text><text x="1917.3" y="1104">100%</text>
</g>
<text transform="translate(1745.5,970) rotate(-90)" font-size="14" fill="#444" text-anchor="middle">R2Y(Cum), Q2(Cum)</text>
<text x="1868.3" y="1125" font-size="14" text-anchor="middle">Correlation between original</text>
<text x="1868.3" y="1142" font-size="14" text-anchor="middle">Y-vector and permuted Y-vector</text>
<g font-size="24" fill="#111">
<text x="1749" y="1178.6">R<tspan font-size="15" dy="-9">2</tspan><tspan dy="9">X: 0.453</tspan></text>
<text x="1749" y="1208.6">R<tspan font-size="15" dy="-9">2</tspan><tspan dy="9">Y: 0.512</tspan></text>
<text x="1749" y="1238">Q<tspan font-size="15" dy="-9">2</tspan><tspan dy="9">: 0.217</tspan></text>
<text x="1749" y="1267.6">p = 0.9996</text>
</g>
<circle cx="1745.9" cy="1307.2" r="7.5" fill="#000"/><circle cx="1745.9" cy="1331.9" r="7.5" fill="#9b1ed1"/><circle cx="1745.9" cy="1356.2" r="7.5" fill="#138a13"/><circle cx="1745.9" cy="1380.5" r="7.5" fill="#f01414"/><circle cx="1745.9" cy="1405.2" r="7.5" fill="#1212f5"/>
<g font-size="18" fill="#222">
<text x="1758.4" y="1313.7">FK1</text><text x="1758.4" y="1338.4">FK2</text><text x="1758.4" y="1362.7">FN1</text><text x="1758.4" y="1387">FN2</text><text x="1758.4" y="1411.7">FT</text>
</g>
</svg>
</body></html>
